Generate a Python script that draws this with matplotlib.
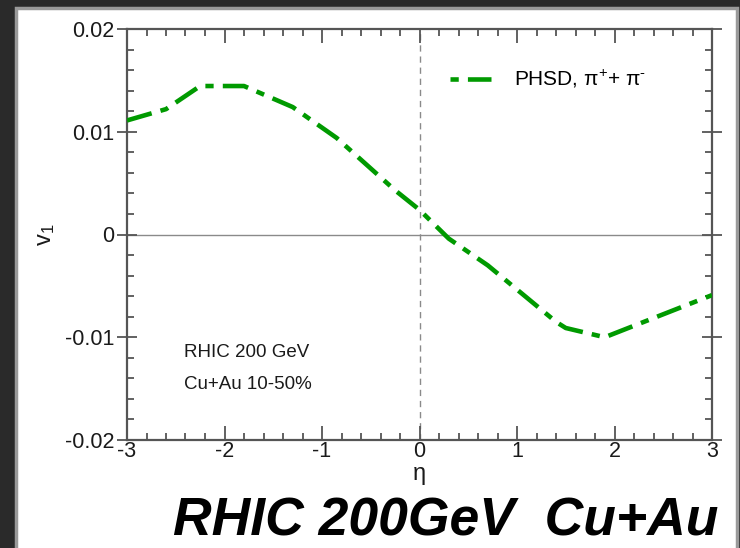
import matplotlib
matplotlib.use("Agg")
import matplotlib.pyplot as plt
from matplotlib.patches import Rectangle
from matplotlib.lines import Line2D
from matplotlib.ticker import MultipleLocator

plt.rcParams["font.family"] = ["Liberation Sans", "DejaVu Sans"]
plt.rcParams["axes.unicode_minus"] = False
plt.rcParams["mathtext.fontset"] = "custom"
plt.rcParams["mathtext.rm"] = "Liberation Sans"
plt.rcParams["mathtext.it"] = "Liberation Sans:italic"

# PHSD directed flow of charged pions vs pseudorapidity
eta = [-3.0, -2.6, -2.25, -1.8, -1.3, -0.85, -0.25, 0.0, 0.3, 0.7, 1.4, 1.5, 1.9, 3.0]
v1 = [0.0111, 0.0122, 0.01445, 0.01445, 0.0124, 0.0094, 0.0043, 0.0024,
      -0.0004, -0.0030, -0.0085, -0.0091, -0.0100, -0.0059]

xticks = [-3, -2, -1, 0, 1, 2, 3]
yticks = [-0.02, -0.01, 0, 0.01, 0.02]
ytick_labels = ["-0.02", "-0.01", "0", "0.01", "0.02"]

green = "#009a00"
dash = (0, (5.6, 2.0, 1.8, 2.0))

fig = plt.figure(figsize=(7.4, 5.48), dpi=100)
fig.patch.set_facecolor("#2a2a2a")

# white slide panel behind the plot
panel = Rectangle((16 / 740, -0.02), (737 - 16) / 740, 1 - 8 / 548 + 0.02,
                  transform=fig.transFigure, facecolor="white",
                  edgecolor="#9a9a9a", linewidth=2.5, zorder=-5)
fig.patches.append(panel)

ax = fig.add_axes([127 / 740, 1 - 440 / 548, (712 - 127) / 740, (440 - 29) / 548])
ax.set_zorder(2)
ax.set_facecolor("white")

ax.axhline(0, color="#8a8a8a", lw=1.0, zorder=1)
ax.axvline(0, color="#8a8a8a", lw=1.0, ls=(0, (4.5, 3.5)), zorder=1)

ax.plot(eta, v1, color=green, lw=3.3, ls=dash, zorder=3)

ax.set_xlim(-3, 3)
ax.set_ylim(-0.02, 0.02)
ax.set_xticks(xticks)
ax.set_xticklabels([str(t) for t in xticks])
ax.set_yticks(yticks)
ax.set_yticklabels(ytick_labels)
ax.xaxis.set_minor_locator(MultipleLocator(0.2))
ax.yaxis.set_minor_locator(MultipleLocator(0.002))

for s in ax.spines.values():
    s.set_color("#555555")
    s.set_linewidth(1.6)

ax.tick_params(axis="both", which="both", color="#555555", width=1.3,
               top=True, right=True, labelsize=15.5, labelcolor="#1a1a1a")
ax.tick_params(axis="x", which="major", direction="in", length=10, pad=1)
ax.tick_params(axis="x", which="minor", direction="in", length=5)
ax.tick_params(axis="y", which="major", direction="inout", length=14, pad=2)
ax.tick_params(axis="y", which="minor", direction="in", length=5)

ax.set_xlabel("η", fontsize=17, labelpad=0.5, color="#1a1a1a")
ax.set_ylabel(r"v$_\mathregular{1}$", fontsize=17, labelpad=6, color="#1a1a1a")

ax.text(0.098, 0.212, "RHIC 200 GeV", transform=ax.transAxes, fontsize=13.5,
        color="#1a1a1a", va="center")
ax.text(0.098, 0.135, "Cu+Au 10-50%", transform=ax.transAxes, fontsize=13.5,
        color="#1a1a1a", va="center")

handle = Line2D([], [], color=green, lw=3.3,
                ls=(7.6, (5.6, 2.0, 1.8, 2.0)))
ax.legend([handle], [r"PHSD, π$^\mathregular{+}$+ π$^\text{-}$"], loc="upper right",
          bbox_to_anchor=(0.92, 0.95), frameon=False, fontsize=15,
          handlelength=2.0, handletextpad=1.1)

fig.text(446 / 740, 1 - 536 / 548, "RHIC 200GeV  Cu+Au", fontsize=38.5,
         fontweight="bold", fontstyle="italic", ha="center", va="baseline",
         color="black")

fig.savefig("out.png", dpi=100, facecolor=fig.get_facecolor())
